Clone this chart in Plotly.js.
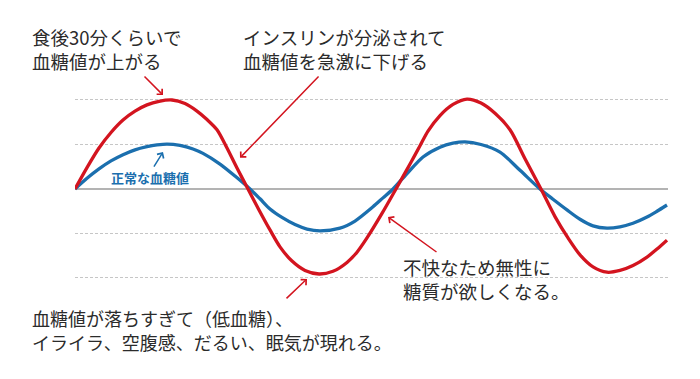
<!DOCTYPE html>
<html>
<head>
<meta charset="utf-8">
<script src="https://cdn.plot.ly/plotly-3.0.1.min.js"></script>
<style>html,body{margin:0;padding:0;background:#fff;}#chart{width:700px;height:379px;}</style>
</head>
<body>
<div id="chart"></div>
<script>
// time (arbitrary units) and blood-sugar level relative to normal (grid units)
const redX  = [0, 12, 24, 36, 48, 60, 72, 84, 97, 110, 122, 132, 142, 152, 162, 173, 184, 195, 205, 217, 230, 244,
               258, 272, 282, 292, 307, 321, 336, 345, 353, 365, 378, 392, 406, 420, 435, 450, 466,
               480, 493, 505, 518, 532, 545, 558, 572, 582, 592];
const redY  = [0, 0.48, 0.92, 1.27, 1.55, 1.75, 1.89, 1.97, 2.00, 1.92, 1.75, 1.56, 1.33, 0.92, 0.47, 0, -0.47, -0.92, -1.30, -1.62, -1.83, -1.91,
               -1.85, -1.65, -1.42, -1.10, -0.55, 0, 0.60, 0.97, 1.30, 1.65, 1.90, 2.02, 1.93, 1.70, 1.33, 0.68, 0,
               -0.62, -1.10, -1.48, -1.75, -1.87, -1.83, -1.72, -1.53, -1.35, -1.15];
const blueX = [0, 12, 24, 36, 48, 60, 72, 82, 92, 105, 118, 128, 145, 160, 175, 185, 195, 207, 220, 232, 245,
               265, 280, 298, 308, 318, 333, 348, 365, 378, 390, 406, 425, 445, 465,
               478, 492, 505, 518, 532, 545, 558, 572, 582, 592];
const blueY = [0, 0.24, 0.45, 0.63, 0.77, 0.88, 0.95, 0.99, 1.01, 0.98, 0.90, 0.80, 0.56, 0.29, 0, -0.22, -0.45, -0.64, -0.80, -0.90, -0.94,
               -0.88, -0.72, -0.40, -0.20, 0, 0.37, 0.72, 0.94, 1.03, 1.06, 1.00, 0.83, 0.42, 0,
               -0.23, -0.47, -0.68, -0.83, -0.88, -0.85, -0.77, -0.63, -0.50, -0.36];
const gridLevels = [-2, -1, 1, 2];

const RED = '#d3141f';
const BLUE = '#1b6fae';
const TXT = '#2b2b2b';
const FONT = '"Noto Sans CJK JP", "Noto Sans", sans-serif';

const traces = [
  {x: blueX, y: blueY, mode: 'lines', line: {color: BLUE, width: 3.3, shape: 'spline', smoothing: 0.8}, hoverinfo: 'skip'},
  {x: redX, y: redY, mode: 'lines', line: {color: RED, width: 3.3, shape: 'spline', smoothing: 0.8}, hoverinfo: 'skip'}
];

function note(text, x, y, size) {
  return {text: text, x: x, y: y, xref: 'paper', yref: 'paper', xanchor: 'left', yanchor: 'middle', align: 'left',
          borderpad: 0, borderwidth: 0,
          showarrow: false, font: {family: FONT, size: size, color: TXT}};
}
function arrow(x, y, ax, ay, color) {
  return {text: '', x: x, y: y, ax: ax, ay: ay, xref: 'x', yref: 'y', axref: 'x', ayref: 'y',
          showarrow: true, arrowhead: 4, arrowsize: 1, arrowwidth: 1.5, arrowcolor: color};
}

const layout = {
  width: 700, height: 379,
  margin: {l: 75, r: 32, t: 0, b: 0},
  paper_bgcolor: '#ffffff', plot_bgcolor: '#ffffff',
  showlegend: false,
  xaxis: {range: [0, 593], showgrid: false, zeroline: false, showticklabels: false, showline: false, ticks: '', fixedrange: true},
  yaxis: {range: [-4.27, 4.247], tickvals: gridLevels, showticklabels: false, ticks: '',
          showgrid: true, gridcolor: '#c6c6c6', gridwidth: 1, griddash: '3px,2px',
          zeroline: true, zerolinecolor: '#b3b3b3', zerolinewidth: 2, showline: false, fixedrange: true},
  annotations: [
    note('食後30分くらいで<br>血糖値が上がる', -0.0725, 0.870, 18.5),
    note('インスリンが分泌されて<br>血糖値を急激に下げる', 0.283, 0.870, 18.5),
    note('不快なため無性に<br>糖質が欲しくなる。', 0.553, 0.263, 18.5),
    note('血糖値が落ちすぎて（低血糖）、', -0.0725, 0.162, 18),
    note('イライラ、空腹感、だるい、眠気が現れる。', -0.0725, 0.098, 18),
    {text: '<b>正常な血糖値</b>', x: 75, y: 0.25, xref: 'x', yref: 'y', xanchor: 'center', yanchor: 'middle',
     showarrow: false, font: {family: FONT, size: 13, color: BLUE}},
    arrow(88, 2.11, 68, 2.56, RED),
    arrow(165, 0.70, 245, 2.56, RED),
    arrow(232, -2.02, 210, -2.49, RED),
    arrow(313, -0.63, 363, -1.44, RED),
    arrow(88, 0.83, 78, 0.47, BLUE)
  ]
};

Plotly.newPlot('chart', traces, layout, {staticPlot: true, displayModeBar: false});
</script>
</body>
</html>
